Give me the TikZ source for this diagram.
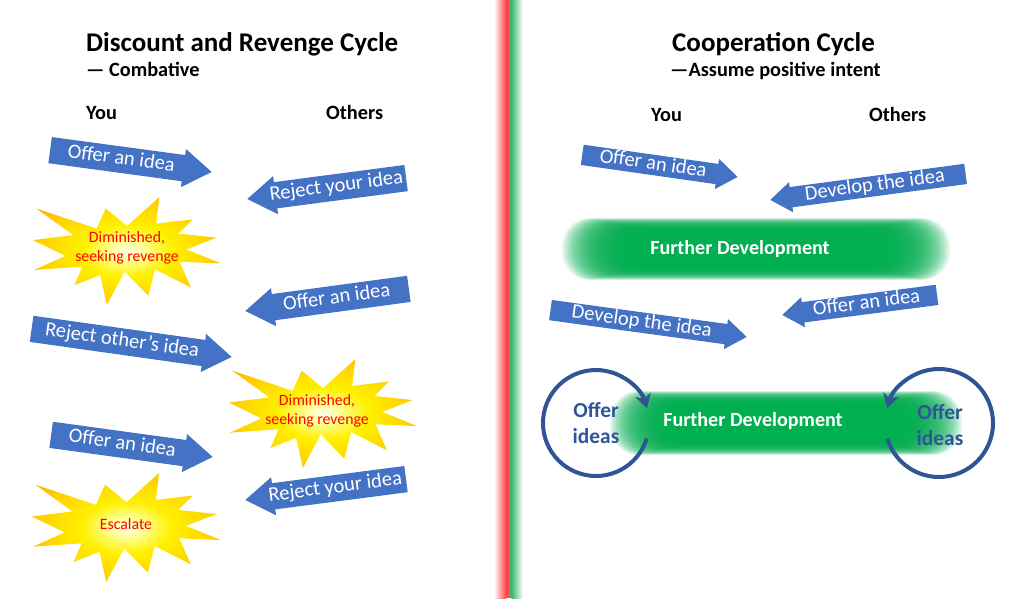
\documentclass[tikz,border=0pt]{standalone}
\usepackage{fontspec}
\setmainfont{Carlito}
\usetikzlibrary{shapes.arrows,arrows.meta}
\definecolor{ablue}{RGB}{68,114,196}
\definecolor{ringblue}{RGB}{47,85,151}
\definecolor{gblob}{RGB}{0,176,80}
\definecolor{burstred}{RGB}{255,0,0}
\definecolor{bcA}{RGB}{255,255,232}
\definecolor{bcB}{RGB}{255,255,140}
\definecolor{bcC}{RGB}{255,240,0}
\definecolor{bcD}{RGB}{255,212,0}
\definecolor{bcE}{RGB}{255,178,0}
\definecolor{bcF}{RGB}{255,148,0}
\definecolor{divred}{RGB}{255,70,70}
\definecolor{divgreen}{RGB}{60,185,110}
\pgfdeclareradialshading{burst}{\pgfpoint{0bp}{0bp}}{color(0bp)=(bcA); color(5bp)=(bcB); color(12bp)=(bcC); color(22bp)=(bcD); color(32bp)=(bcE); color(42bp)=(bcF); color(50bp)=(bcF)}
\newcommand\burstshape[5]{%
  \begin{scope}[shift={(#2,#3)}, xscale=#4/100, yscale=#5/100]
    \shade[shading=burst] (50,26.85) -- (67.23,0) -- (65.53,24.65) -- (85.09,20.63) -- (77.32,33.87) -- (97.67,37.67) -- (81.51,48.50) -- (100,61.53) -- (77.95,59.92) -- (84.00,83.77) -- (64.91,66.93) -- (61.33,91.38) -- (48.76,69.14) -- (39.28,100) -- (35.72,72.35) -- (22.05,81.56) -- (26.24,64.52) -- (0.63,67.53) -- (17.23,54.51) -- (0,39.88) -- (21.42,35.26) -- (1.71,10.63) -- (33.85,29.26) -- (38.67,10.63) -- cycle;
  \end{scope}
  \coordinate (#1) at (#2+#4/2,#3+#5/2);
}
\newcommand\greenblob[6]{%
  \foreach \i in {0,...,47}{
    \pgfmathsetmacro\ha{#3-(#3-#4)*\i/47}
    \pgfmathsetmacro\hb{#5-(#5-#6)*\i/47}
    \fill[gblob, opacity=0.085, rounded corners=0.9*\hb pt] (#1-\ha,#2-\hb) rectangle (#1+\ha,#2+\hb);
  }
}
\tikzset{
  arrbase/.style={single arrow, fill=ablue, text=white, draw=none, anchor=tip,
    font=\fontsize{20.5}{20.5}\selectfont, text height=13.5pt, text depth=4pt,
    inner xsep=3pt},
  arrL/.style={arrbase, inner ysep=4.25pt, single arrow head extend=6pt, single arrow tip angle=68},
  arrR/.style={arrbase, inner ysep=1.25pt, single arrow head extend=5pt, single arrow tip angle=72},
  pointleft/.style={shape border rotate=180},
  title/.style={anchor=base west, inner xsep=0pt, font=\bfseries\fontsize{27}{27}\selectfont},
  subtitle/.style={anchor=base west, inner xsep=0pt, font=\bfseries\fontsize{20.3}{20.3}\selectfont},
  burstlabel/.style={text=burstred, align=center, font=\fontsize{15.8}{19}\selectfont},
  blobtext/.style={text=white, font=\bfseries\fontsize{20.1}{20.1}\selectfont},
  ring/.style={line width=4pt, draw=ringblue, -{Stealth[length=14pt, width=16pt, inset=4pt]}},
  ringtext/.style={text=ringblue, align=center, font=\bfseries\fontsize{21.4}{26}\selectfont},
}
\begin{document}
\begin{tikzpicture}[x=1pt, y=-1pt]
\useasboundingbox (0,0) rectangle (1024,598);
\fill[white] (0,0) rectangle (1024,598);
% divider
\shade[left color=white, right color=divred] (494,0) rectangle (506,598);
\fill[divred] (506,0) rectangle (508.5,598);
\fill[divgreen] (508.5,0) rectangle (511.5,598);
\shade[left color=divgreen, right color=white] (511.5,0) rectangle (523,598);

% ===== left panel =====
\node[title] (t1) at (86,51) {Discount and Revenge Cycle};
\node[subtitle] (s1) at (86,76) {— Combative};
\node[subtitle] (you1) at (86,119) {You};
\node[subtitle] (oth1) at (326,119) {Others};

\burstshape{B1}{33}{197}{188}{108}
\burstshape{B2}{229}{359}{188}{109}
\burstshape{B3}{32}{473}{189}{109}
\node[burstlabel] (b1) at (127,248) {Diminished,\\seeking revenge};
\node[burstlabel] (b2) at (317,411) {Diminished,\\seeking revenge};
\node[burstlabel] (b3) at (126,524) {Escalate};

\node[arrL, rotate=-7.7, minimum height=163pt] (L1) at (212,172) {Offer an idea};
\node[arrL, pointleft, rotate=7.5, minimum height=160pt] (L2) at (247,199) {Reject your idea};
\node[arrL, pointleft, rotate=7.7, minimum height=165pt] (L3) at (245,311) {Offer an idea};
\node[arrL, rotate=-8, minimum height=202pt] (L4) at (232,357) {Reject other’s idea};
\node[arrL, rotate=-7.8, minimum height=163pt] (L5) at (213,457) {Offer an idea};
\node[arrL, pointleft, rotate=7.4, minimum height=162pt] (L6) at (245,500) {Reject your idea};

% ===== right panel =====
\node[title] (t2) at (672,51) {Cooperation Cycle};
\node[subtitle] (s2) at (670,76) {—Assume positive intent};
\node[subtitle] (you2) at (651,121) {You};
\node[subtitle] (oth2) at (869,121) {Others};

\node[arrR, rotate=-8.1, minimum height=157pt] (R1) at (738,177) {Offer an idea};
\node[arrR, pointleft, rotate=7.6, minimum height=197pt] (R2) at (770,200) {Develop the idea};
\node[arrR, rotate=-7.8, minimum height=198pt] (R3) at (747,337) {Develop the idea};
\node[arrR, pointleft, rotate=7.4, minimum height=156pt] (R4) at (782,315) {Offer an idea};

\greenblob{756}{249}{194}{112}{31}{16}
\node[blobtext] (g1) at (740,249) {Further Development};

\coordinate (C1) at (596,423);
\coordinate (C2) at (939,423);
\greenblob{786}{423}{176}{104}{32}{17}
\draw[ring] (C1) ++(17:53) arc[start angle=17, end angle=344, radius=53];
\draw[ring] (C2) ++(163:54) arc[start angle=163, end angle=-164, radius=54];
\node[blobtext] (g2) at (753,421) {Further Development};
\node[ringtext] (o1) at (C1) {Offer\\ideas};
\node[ringtext] (o2) at (940,425) {Offer\\ideas};
\end{tikzpicture}
\end{document}
